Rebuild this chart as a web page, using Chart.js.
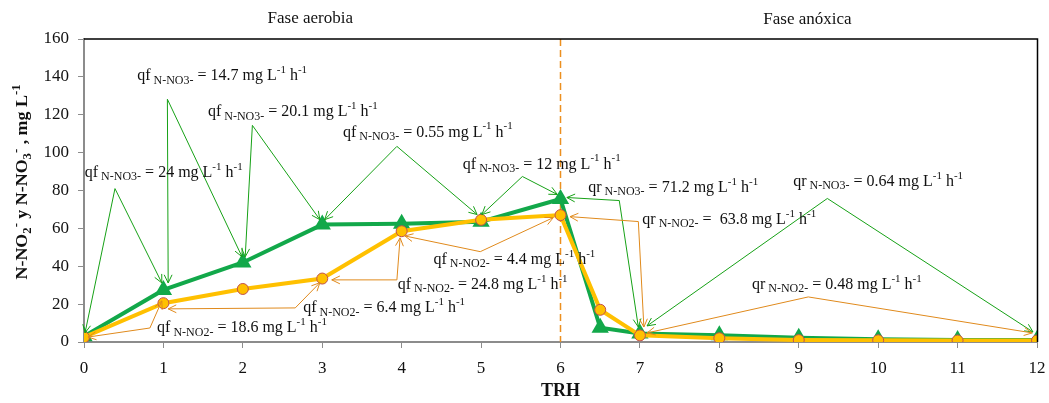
<!DOCTYPE html>
<html>
<head>
<meta charset="utf-8">
<script src="https://cdn.jsdelivr.net/npm/chart.js@4/dist/chart.umd.min.js"></script>
<style>
  html, body { margin: 0; padding: 0; background: #fff; }
  #wrap { width: 1049px; height: 403px; }
</style>
</head>
<body>
<div id="wrap"><canvas id="chart"></canvas></div>
<script>
// datos (TRH en horas, concentraciones en mg/L)
const trh = [0, 1, 2, 3, 4, 5, 6, 6.5, 7, 8, 9, 10, 11, 12];
const nitrato = [3, 27.5, 42, 62, 62.5, 63.5, 75.5, 7.5, 4.5, 3.5, 2.3, 1.5, 1, 1];
const nitrito = [2.5, 20.5, 28, 33.5, 58.5, 64.5, 67, 17, 3.5, 2, 1, 0.9, 0.8, 0.8];
const xTicks = [0, 1, 2, 3, 4, 5, 6, 7, 8, 9, 10, 11, 12];
const yTicks = [0, 20, 40, 60, 80, 100, 120, 140, 160];

// velocidades: texto, posicion del texto y flechas (en unidades de datos)
const tasas = [
  { c: 'v', pre: 'qf', ion: 'N-NO3-', val: '24', at: [0.01, 89.5], path: [[0.013, 4.8], [0.39, 81], [0.98, 31.2]] },
  { c: 'v', pre: 'qf', ion: 'N-NO3-', val: '14.7', at: [0.67, 140.4], path: [[1.06, 31.2], [1.05, 128.2], [1.99, 45]] },
  { c: 'v', pre: 'qf', ion: 'N-NO3-', val: '20.1', at: [1.56, 121.3], path: [[2.03, 45], [2.12, 114.4], [2.97, 64.6]] },
  { c: 'v', pre: 'qf', ion: 'N-NO3-', val: '0.55', at: [3.26, 110.7], path: [[3.03, 64.6], [3.94, 103.3], [4.95, 67.3]] },
  { c: 'v', pre: 'qf', ion: 'N-NO3-', val: '12', at: [4.77, 93.8], path: [[5.01, 67.3], [5.52, 87.4], [5.96, 77.9]] },
  { c: 'v', pre: 'qr', ion: 'N-NO3-', val: '71.2', at: [6.35, 81.6], path: [[6.08, 76.3], [6.74, 74.7], [6.98, 7.9]] },
  { c: 'v', pre: 'qr', ion: 'N-NO3-', val: '0.64', at: [8.93, 84.8], path: [[7.09, 8.5], [9.36, 75.8], [11.95, 5.3]] },
  { c: 'n', pre: 'qf', ion: 'N-NO2-', val: '18.6', at: [0.92, 7.4], path: [[0.05, 2.6], [0.83, 7.4], [0.98, 21.7]] },
  { c: 'n', pre: 'qf', ion: 'N-NO2-', val: '6.4', at: [2.76, 18], path: [[1.06, 17.5], [2.66, 18], [2.97, 31.3]] },
  { c: 'n', pre: 'qf', ion: 'N-NO2-', val: '24.8', at: [3.95, 30.2], path: [[3.12, 32.8], [3.94, 32.8], [3.98, 55]] },
  { c: 'n', pre: 'qf', ion: 'N-NO2-', val: '4.4', at: [4.4, 43.4], path: [[4.04, 56], [4.99, 47.7], [5.91, 65.7]] },
  { c: 'n', pre: 'qr', ion: 'N-NO2-', val: ' 63.8', at: [7.03, 64.6], path: [[6.12, 66.2], [6.98, 63.6], [7.05, 7.9]] },
  { c: 'n', pre: 'qr', ion: 'N-NO2-', val: '0.48', at: [8.41, 30.2], path: [[7.09, 4.8], [9.12, 23.8], [11.94, 4.8]] }
];

const SERIF = '"Liberation Serif", "Times New Roman", serif';
const VERDE = '#12a84a';
const NARANJA = '#ffc000';
const FLECHA_V = '#16a116';
const FLECHA_N = '#e08a1c';

// texto con subindices y superindices
function richText(ctx, x, y, parts, size, bold) {
  let cx = x;
  const w = bold ? 'bold ' : '';
  parts.forEach(p => {
    let fs = size, dy = 0;
    if (p[1] === 'sub') { fs = Math.round(size * 0.72); dy = size * 0.28; }
    if (p[1] === 'sup') { fs = Math.round(size * 0.68); dy = -size * 0.36; }
    ctx.font = w + fs + 'px ' + SERIF;
    ctx.fillText(p[0], cx, y + dy);
    cx += ctx.measureText(p[0]).width;
  });
  return cx - x;
}

function arrowHead(ctx, fx, fy, tx, ty) {
  const a = Math.atan2(ty - fy, tx - fx);
  const len = 9, sp = 0.45;
  ctx.beginPath();
  ctx.moveTo(tx - len * Math.cos(a - sp), ty - len * Math.sin(a - sp));
  ctx.lineTo(tx, ty);
  ctx.lineTo(tx - len * Math.cos(a + sp), ty - len * Math.sin(a + sp));
  ctx.stroke();
}

const anotaciones = {
  id: 'anotaciones',
  beforeDatasetsDraw(chart) {
    const { ctx, chartArea: ca, scales: { x } } = chart;
    ctx.save();
    // linea de cambio de fase
    ctx.strokeStyle = '#ec8f1f';
    ctx.lineWidth = 1.5;
    ctx.setLineDash([7, 4]);
    ctx.beginPath();
    ctx.moveTo(x.getPixelForValue(6), ca.top);
    ctx.lineTo(x.getPixelForValue(6), ca.bottom);
    ctx.stroke();
    ctx.restore();
  },
  afterDatasetsDraw(chart) {
    const { ctx, chartArea: ca, scales: { x, y } } = chart;
    ctx.save();
    // marco superior y derecho
    ctx.strokeStyle = '#000';
    ctx.lineWidth = 1.5;
    ctx.beginPath();
    ctx.moveTo(ca.left, ca.top);
    ctx.lineTo(ca.right + 0.5, ca.top);
    ctx.lineTo(ca.right + 0.5, ca.bottom);
    ctx.stroke();

    // flechas
    tasas.forEach(t => {
      const pts = t.path.map(p => [x.getPixelForValue(p[0]), y.getPixelForValue(p[1])]);
      ctx.strokeStyle = t.c === 'v' ? FLECHA_V : FLECHA_N;
      ctx.lineWidth = 1;
      ctx.beginPath();
      pts.forEach((p, i) => i ? ctx.lineTo(p[0], p[1]) : ctx.moveTo(p[0], p[1]));
      ctx.stroke();
      arrowHead(ctx, pts[1][0], pts[1][1], pts[0][0], pts[0][1]);
      const n = pts.length;
      arrowHead(ctx, pts[n - 2][0], pts[n - 2][1], pts[n - 1][0], pts[n - 1][1]);
    });

    // textos
    ctx.fillStyle = '#111';
    ctx.textBaseline = 'middle';
    ctx.textAlign = 'left';
    tasas.forEach(t => {
      richText(ctx, x.getPixelForValue(t.at[0]), y.getPixelForValue(t.at[1]), [
        [t.pre, 'n'], [' ' + t.ion, 'sub'], [' = ' + t.val + ' mg L', 'n'], ['-1', 'sup'], [' h', 'n'], ['-1', 'sup']
      ], 16);
    });

    // fases
    ctx.font = '17px ' + SERIF;
    ctx.textAlign = 'center';
    ctx.fillText('Fase aerobia', x.getPixelForValue(2.85), ca.top - 20);
    ctx.fillText('Fase anóxica', x.getPixelForValue(9.11), ca.top - 19);

    // titulo eje y (comprimido a lo largo del texto como en el original)
    const tp = [['N-NO', 'n'], ['2', 'sub'], ['-', 'sup'], [' y N-NO', 'n'], ['3', 'sub'], ['-', 'sup'], [' , mg L', 'n'], ['-1', 'sup']];
    const wTot = richText(ctx, -10000, -10000, tp, 17, true);
    ctx.translate(23, 182);
    ctx.rotate(-Math.PI / 2);
    ctx.scale(195 / wTot, 1);
    ctx.textAlign = 'left';
    richText(ctx, -wTot / 2, 0, tp, 17, true);
    ctx.restore();
  }
};

new Chart(document.getElementById('chart'), {
  type: 'line',
  data: {
    datasets: [
      {
        label: 'N-NO2-',
        data: trh.map((t, i) => ({ x: t, y: nitrito[i] })),
        borderColor: NARANJA,
        backgroundColor: NARANJA,
        borderWidth: 4,
        pointStyle: 'circle',
        pointRadius: 5.5,
        pointBorderColor: '#c0504d',
        pointBorderWidth: 1,
        pointBackgroundColor: NARANJA,
        order: 0
      },
      {
        label: 'N-NO3-',
        data: trh.map((t, i) => ({ x: t, y: nitrato[i] })),
        borderColor: VERDE,
        backgroundColor: VERDE,
        borderWidth: 4,
        pointStyle: 'triangle',
        pointRadius: 6,
        pointBorderColor: VERDE,
        pointBackgroundColor: VERDE,
        order: 1
      }
    ]
  },
  options: {
    responsive: true,
    maintainAspectRatio: false,
    animation: false,
    layout: { padding: { top: 39, right: 12, left: 0, bottom: 0 } },
    plugins: { legend: { display: false }, tooltip: { enabled: false } },
    scales: {
      x: {
        type: 'linear',
        min: 0,
        max: 12,
        afterBuildTicks: s => { s.ticks = xTicks.map(v => ({ value: v })); },
        afterFit: s => { s.height = 61; s.paddingLeft = 0; s.paddingRight = 0; },
        ticks: { color: '#111', font: { family: SERIF, size: 17 }, padding: 10, maxRotation: 0 },
        grid: { drawOnChartArea: false, drawTicks: true, tickLength: 6, color: '#8c8c8c', lineWidth: 1 },
        border: { color: '#8c8c8c', width: 2 },
        title: { display: true, text: 'TRH', color: '#111', font: { family: SERIF, size: 18, weight: 'bold' }, padding: { top: 0, bottom: 1 } }
      },
      y: {
        min: 0,
        max: 160,
        afterBuildTicks: s => { s.ticks = yTicks.map(v => ({ value: v })); },
        afterFit: s => { s.width = 84; s.paddingTop = 0; s.paddingBottom = 0; },
        ticks: { color: '#111', font: { family: SERIF, size: 17 }, padding: 9 },
        grid: { drawOnChartArea: false, drawTicks: true, tickLength: 6, color: '#8c8c8c', lineWidth: 1 },
        border: { color: '#8c8c8c', width: 2 }
      }
    }
  },
  plugins: [anotaciones]
});
</script>
</body>
</html>
